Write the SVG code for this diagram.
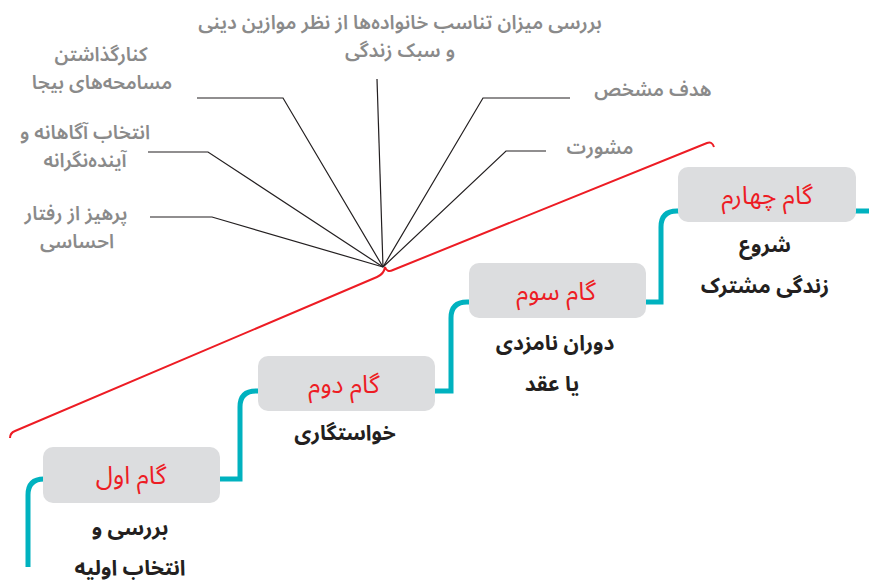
<svg xmlns="http://www.w3.org/2000/svg" width="869" height="582" viewBox="0 0 869 582">
<style>
text{font-family:"Noto Sans Arabic","DejaVu Sans","Noto Sans",sans-serif;font-weight:bold;text-anchor:middle}
.lbl{fill:#8a8a8a;font-size:19.5px;font-weight:600}
.step{fill:#ed1c24;font-size:25px;font-weight:normal}
.sub{fill:#231f20;font-size:21px}
.box{fill:#dcdddf}
.lead{fill:none;stroke:#231f20;stroke-width:1.2}
</style>
<rect width="869" height="582" fill="#fff"/>
<g id="connectors">
<path d="M28,567 V495 Q28,479 44,479 H240 V407 Q240,391 256,391 H451 V318 Q451,302 467,302 H661 V227 Q661,211 677,211 H869" fill="none" stroke="#00b2bf" stroke-width="5"/>
<path d="M10,438 Q10,433 15,431 L377,277 Q384,274 385,267 Q387,273 393,270 L707,143 Q712,141 714,147" fill="none" stroke="#ed1c24" stroke-width="2"/>
<g class="lead">
<path d="M197,98 H283 L383,267"/>
<path d="M148,152 H208 L383,267"/>
<path d="M150,217 H212 L383,267"/>
<path d="M377,79 L383,267"/>
<path d="M570,98 H483 L383,267"/>
<path d="M546,151 H506 L383,267"/>
</g>
</g>
<g id="label-top">
<text class="lbl" x="400" y="29">بررسی میزان تناسب خانواده‌ها از نظر موازین دینی</text>
<text class="lbl" x="400" y="57">و سبک زندگی</text>
</g>
<g id="label-mosamehe">
<text class="lbl" x="101" y="61">کنارگذاشتن</text>
<text class="lbl" x="102" y="89">مسامحه‌های بیجا</text>
</g>
<g id="label-entekhab">
<text class="lbl" x="85" y="139">انتخاب آگاهانه و</text>
<text class="lbl" x="85" y="167">آینده‌نگرانه</text>
</g>
<g id="label-parhiz">
<text class="lbl" x="76" y="220">پرهیز از رفتار</text>
<text class="lbl" x="77" y="248">احساسی</text>
</g>
<g id="label-hadaf">
<text class="lbl" x="653" y="96">هدف مشخص</text>
</g>
<g id="label-mashverat">
<text class="lbl" x="600" y="154">مشورت</text>
</g>
<g id="step1">
<rect class="box" x="43" y="447" width="177" height="56" rx="10"/>
<text class="step" x="131" y="484">گام اول</text>
<text class="sub" x="130" y="535">بررسی و</text>
<text class="sub" x="130" y="575">انتخاب اولیه</text>
</g>
<g id="step2">
<rect class="box" x="258" y="356" width="177" height="55" rx="10"/>
<text class="step" x="344" y="393">گام دوم</text>
<text class="sub" x="345" y="440">خواستگاری</text>
</g>
<g id="step3">
<rect class="box" x="469" y="263" width="177" height="55" rx="10"/>
<text class="step" x="556" y="300">گام سوم</text>
<text class="sub" x="555" y="350">دوران نامزدی</text>
<text class="sub" x="552" y="391">یا عقد</text>
</g>
<g id="step4">
<rect class="box" x="678" y="167" width="178" height="55" rx="10"/>
<text class="step" x="767" y="204">گام چهارم</text>
<text class="sub" x="765" y="252">شروع</text>
<text class="sub" x="765" y="293">زندگی مشترک</text>
</g>
</svg>
